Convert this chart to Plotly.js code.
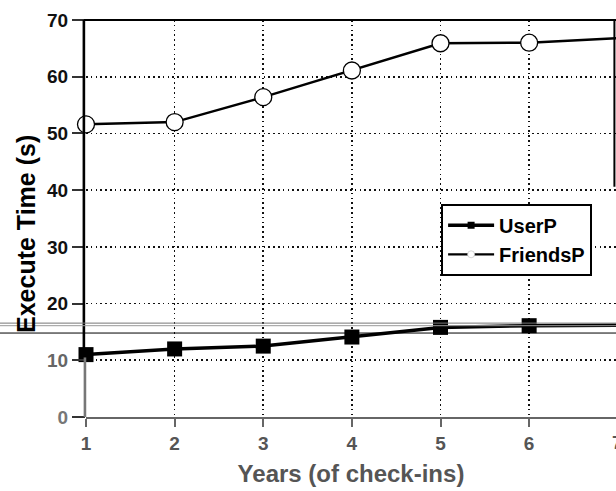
<!DOCTYPE html>
<html>
<head>
<meta charset="utf-8">
<script src="https://cdn.plot.ly/plotly-3.0.1.min.js"></script>
<style>html,body{margin:0;padding:0;background:#fff;}#chart{width:616px;height:491px;}</style>
</head>
<body>
<div id="chart"></div>
<script>
var years = [1, 2, 3, 4, 5, 6, 7];
var userP = [11.0, 12.0, 12.5, 14.1, 15.8, 16.1, 16.2];
var friendsP = [51.6, 52.0, 56.4, 61.1, 65.9, 66.0, 66.8];
var yTicks = [0, 10, 20, 30, 40, 50, 60, 70];
var yTickText = ['<span style="color:#777">0</span>', '<span style="color:#666">10</span>', '20', '30', '40', '50', '60', '70'];
var xTicks = [1, 2, 3, 4, 5, 6, 7];

var fontFam = 'Arial, "Liberation Sans", sans-serif';

var traces = [
  {
    x: years, y: userP, name: 'UserP', mode: 'lines+markers', type: 'scatter', showlegend: false,
    line: {color: '#000', width: 3.5},
    marker: {symbol: 'square', size: 15, color: '#000'},
    cliponaxis: false
  },
  {
    x: years, y: friendsP, name: 'FriendsP', mode: 'lines', type: 'scatter', showlegend: false,
    line: {color: '#000', width: 2.5},
    cliponaxis: false
  },
  {
    x: years, y: friendsP, name: 'FriendsP', mode: 'markers', type: 'scatter', showlegend: false,
    marker: {symbol: 'circle', size: 17, color: '#fff', line: {width: 1.3, color: '#000'}},
    cliponaxis: false
  },
  {
    x: [null], y: [null], name: 'UserP', mode: 'lines+markers', type: 'scatter',
    line: {color: '#000', width: 3.5},
    marker: {symbol: 'square', size: 7, color: '#000'}
  },
  {
    x: [null], y: [null], name: 'FriendsP', mode: 'lines+markers', type: 'scatter',
    line: {color: '#000', width: 2.2},
    marker: {symbol: 'circle', size: 7, color: '#fff', line: {width: 0.6, color: '#bbb'}}
  }
];

var layout = {
  width: 616, height: 491,
  margin: {l: 86, r: 0, t: 20, b: 74, pad: 0},
  paper_bgcolor: '#fff', plot_bgcolor: '#fff',
  font: {family: fontFam, color: '#000'},
  showlegend: true,
  legend: {
    x: 0.67, y: 0.537, xanchor: 'left', yanchor: 'top',
    bgcolor: '#fff', bordercolor: '#000', borderwidth: 2,
    font: {family: fontFam, size: 20, weight: 700, color: '#000'},
    tracegroupgap: 0, itemwidth: 46
  },
  xaxis: {
    range: [1, 6.98],
    tickmode: 'array', tickvals: xTicks, ticktext: xTicks.map(String),
    showgrid: true, gridcolor: '#111', gridwidth: 1.6, griddash: '1.6px,3.2px',
    showline: true, linecolor: '#666', linewidth: 2, mirror: false,
    ticks: 'outside', ticklen: 8, tickwidth: 2, tickcolor: '#666',
    tickfont: {family: fontFam, size: 19, weight: 700, color: '#555'},
    zeroline: false,
    title: {text: 'Years (of check-ins)', standoff: 12,
      font: {family: fontFam, size: 24, weight: 700, color: '#555'}}
  },
  yaxis: {
    range: [0, 70],
    tickmode: 'array', tickvals: yTicks, ticktext: yTickText,
    showgrid: true, gridcolor: '#111', gridwidth: 1.6, griddash: '1.6px,3.2px',
    showline: false,
    ticks: 'outside', ticklen: 13, tickwidth: 2, tickcolor: '#333',
    tickfont: {family: fontFam, size: 19, weight: 700, color: '#111'},
    zeroline: false,
    title: {text: ''}
  },
  shapes: [
    {type: 'line', xref: 'paper', yref: 'paper', x0: -0.004, x1: 1.01, y0: 1, y1: 1, line: {color: '#000', width: 2.2}},
    {type: 'line', xref: 'paper', yref: 'paper', x0: 0.997, x1: 0.997, y0: 1, y1: 0.58, line: {color: '#000', width: 2}},
    {type: 'line', xref: 'paper', yref: 'paper', x0: -0.004, x1: -0.004, y0: 1, y1: 0.15, line: {color: '#000', width: 2.6}},
    {type: 'line', xref: 'paper', yref: 'paper', x0: -0.002, x1: -0.002, y0: 0.15, y1: 0, line: {color: '#777', width: 2.6}},
    {type: 'line', xref: 'paper', yref: 'paper', x0: -0.17, x1: 1.01, y0: 0.2365, y1: 0.2365, line: {color: '#777', width: 1}},
    {type: 'line', xref: 'paper', yref: 'paper', x0: -0.17, x1: 1.01, y0: 0.2300, y1: 0.2300, line: {color: '#999', width: 1}},
    {type: 'line', xref: 'paper', yref: 'paper', x0: -0.17, x1: 1.01, y0: 0.2115, y1: 0.2115, line: {color: '#000', width: 1}}
  ],
  annotations: [
    {text: '7', xref: 'paper', yref: 'paper', x: 1.0034, y: 0, yshift: -13, yanchor: 'top', xanchor: 'center',
     showarrow: false, font: {family: fontFam, size: 19, weight: 700, color: '#555'}},
    {text: 'Execute Time (s)', xref: 'paper', yref: 'paper', x: 0, y: 0.461, xshift: -60,
     xanchor: 'center', yanchor: 'middle', textangle: -90, showarrow: false,
     font: {family: fontFam, size: 25, weight: 700, color: '#000'}}
  ]
};

Plotly.newPlot('chart', traces, layout, {displayModeBar: false, staticPlot: true});
</script>
</body>
</html>
